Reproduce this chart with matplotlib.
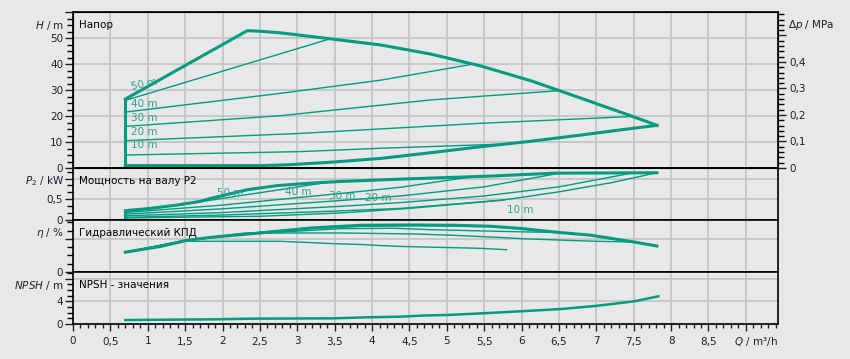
import matplotlib
matplotlib.use('Agg')
import matplotlib.pyplot as plt
from matplotlib.ticker import MultipleLocator, FuncFormatter

# --- данные ---
# Напор H, m
q_hmax = [0.7, 2.33, 2.5, 2.77, 3.44, 4.12, 4.79, 5.46, 6.13, 6.8, 7.47, 7.81]
h_max = [26.5, 52.8, 52.6, 52.0, 49.7, 47.3, 43.8, 39.2, 33.5, 26.8, 20.0, 16.4]
q_hmin = [0.7, 2.5, 2.85, 3.44, 4.12, 4.79, 5.46, 6.13, 6.8, 7.47, 7.81]
h_min = [0.9, 0.9, 1.2, 2.2, 3.7, 5.9, 8.2, 10.3, 12.7, 15.2, 16.4]
q_h50 = [0.7, 3.44]
h_50 = [26.0, 49.7]
q_h40 = [0.7, 2.77, 4.12, 5.36]
h_40 = [21.5, 28.7, 33.8, 40.0]
q_h30 = [0.7, 2.77, 4.79, 6.48]
h_30 = [16.0, 20.1, 26.2, 29.7]
q_h20 = [0.7, 3.04, 5.46, 7.47]
h_20 = [10.5, 13.3, 17.2, 19.8]
q_h10 = [0.7, 3.04, 4.12, 5.75]
h_10 = [5.0, 6.3, 7.6, 9.2]

# Мощность P2, kW
q_pmax = [0.7, 1.03, 1.39, 1.7, 1.84, 2.33, 2.73, 3.18, 3.58, 4.29, 4.92, 5.59, 6.43, 7.81]
p_max = [0.225, 0.28, 0.36, 0.45, 0.52, 0.73, 0.83, 0.89, 0.93, 0.98, 1.02, 1.06, 1.13, 1.14]
q_pmin = [0.7, 2.5, 3.58, 4.5, 5.75, 6.5, 7.2, 7.81]
p_min = [0.05, 0.09, 0.17, 0.28, 0.48, 0.68, 0.9, 1.14]
q_p50 = [0.7, 1.5, 2.1, 2.8, 3.44]
p_50 = [0.21, 0.38, 0.55, 0.74, 0.92]
q_p40 = [0.7, 2.0, 3.0, 3.58, 4.38, 5.36]
p_40 = [0.18, 0.36, 0.54, 0.64, 0.79, 1.05]
q_p30 = [0.7, 2.0, 3.58, 4.38, 5.5, 6.48]
p_30 = [0.14, 0.27, 0.47, 0.58, 0.80, 1.12]
q_p20 = [0.7, 2.0, 3.58, 4.38, 5.5, 6.5, 7.47]
p_20 = [0.10, 0.18, 0.33, 0.42, 0.58, 0.80, 1.13]
q_p10 = [0.7, 2.0, 3.58, 4.38, 5.75]
p_10 = [0.065, 0.12, 0.22, 0.28, 0.48]

# КПД, %
q_emax = [0.7, 1.17, 1.5, 1.84, 2.5, 3.18, 3.85, 4.5, 5.1, 5.59, 6.02, 6.43, 6.93, 7.5, 7.81]
e_max = [24, 31, 38, 42, 47.3, 53.3, 56.6, 57, 56.6, 55.4, 52.5, 48.5, 44.5, 36.4, 31.5]
q_e50 = [0.7, 1.5, 2.3, 3.44]
e_50 = [24, 38, 46.5, 55]
q_e40 = [0.7, 1.5, 2.3, 3.2, 3.9, 4.6, 5.36]
e_40 = [24, 38, 46.5, 53, 55.5, 56.2, 55.8]
q_e30 = [0.7, 1.5, 2.3, 3.1, 3.58, 4.29, 4.78, 5.32, 6.08, 6.48]
e_30 = [24, 38, 46, 50, 52.5, 53, 51.3, 50.1, 48.5, 48]
q_e20 = [0.7, 1.5, 2.28, 3.0, 3.58, 4.6, 5.1, 5.68, 6.0, 6.6, 7.0, 7.47]
e_20 = [24, 38, 47, 47.3, 47.3, 46, 44.4, 42, 40.4, 38.4, 37.2, 36.4]
q_e10 = [0.7, 1.2, 1.5, 2.2, 2.77, 3.5, 3.85, 4.33, 4.87, 5.45, 5.8]
e_10 = [24, 31, 37.2, 37.2, 37.2, 34.3, 33.3, 31.1, 29.9, 28.7, 27]

# NPSH, m
q_npsh = [0.7, 1.93, 2.37, 3.49, 3.94, 4.38, 4.7, 5.01, 5.5, 5.99, 6.53, 7.02, 7.51, 7.83]
npsh = [0.7, 0.83, 0.94, 1.0, 1.18, 1.29, 1.5, 1.59, 1.9, 2.24, 2.64, 3.22, 4.0, 4.88]

BG = '#e8e8e8'
GRID = '#c2c2c2'
LINE = '#009b80'
LBL = '#2fa190'
TXT = '#1e1e28'
THICK = 2.2
THIN = 1.0

plt.rcParams['font.size'] = 7.5

fig = plt.figure(figsize=(8.5, 3.59), dpi=100, facecolor=BG)


def panel(top, bottom):
    ax = fig.add_axes([73 / 850, 1 - bottom / 359, 705 / 850, (bottom - top) / 359])
    ax.set_facecolor(BG)
    ax.set_xlim(0, 9.43)
    ax.xaxis.set_major_locator(MultipleLocator(0.5))
    ax.xaxis.set_minor_locator(MultipleLocator(0.1))
    ax.grid(which='major', color=GRID, lw=1.2)
    ax.set_axisbelow(True)
    for s in ax.spines.values():
        s.set_color('black')
        s.set_linewidth(1.2)
    ax.tick_params(axis='x', which='both', bottom=False, labelbottom=False)
    ax.tick_params(axis='y', which='major', length=5.5, width=1.0, pad=1.5, colors=TXT)
    ax.tick_params(axis='y', which='minor', length=4.5, width=1.0)
    return ax


def fmt(hidden=()):
    def f(v, pos):
        if any(abs(v - h) < 1e-6 for h in hidden):
            return ''
        return ('%g' % round(v, 3)).replace('.', ',')
    return FuncFormatter(f)


def side_labels(ax, left, title):
    ax.annotate(left, xy=(0, 1), xycoords='axes fraction', xytext=(-9, -13),
                textcoords='offset pixels', ha='right', va='center', color=TXT)
    ax.annotate(title, xy=(0, 1), xycoords='axes fraction', xytext=(6, -13),
                textcoords='offset pixels', ha='left', va='center', color='black')


ax_h = panel(12, 168)
ax_p = panel(168, 220)
ax_e = panel(220, 272)
ax_n = panel(272, 324)

# --- Напор ---
ax_h.set_ylim(0, 60)
ax_h.yaxis.set_major_locator(MultipleLocator(10))
ax_h.yaxis.set_minor_locator(MultipleLocator(2.5))
ax_h.yaxis.set_major_formatter(fmt([60]))
for q, h in [(q_h50, h_50), (q_h40, h_40), (q_h30, h_30), (q_h20, h_20), (q_h10, h_10)]:
    ax_h.plot(q, h, color=LINE, lw=THIN)
ax_h.plot(q_hmax, h_max, color=LINE, lw=THICK)
ax_h.plot(q_hmin, h_min, color=LINE, lw=THICK)
ax_h.plot([q_hmax[0], q_hmin[0]], [h_max[0], h_min[0]], color=LINE, lw=THICK)
for txt, y, rot in [('50 m', 31.0, 12), ('40 m', 24.6, 0), ('30 m', 19.1, 0),
                    ('20 m', 13.7, 0), ('10 m', 8.8, 0)]:
    ax_h.text(0.78, y, txt, color=LBL, ha='left', va='center', rotation=rot,
              rotation_mode='anchor')
side_labels(ax_h, '$H$ / m', 'Напор')

ax_r = ax_h.twinx()
ax_r.set_ylim(0, 60 * 0.00980665)
ax_r.yaxis.set_major_locator(MultipleLocator(0.1))
ax_r.yaxis.set_minor_locator(MultipleLocator(0.02))
ax_r.yaxis.set_major_formatter(fmt([0.5]))
ax_r.tick_params(axis='y', which='major', length=5.5, width=1.0, pad=3, colors=TXT)
ax_r.tick_params(axis='y', which='minor', length=4.5, width=1.0)
ax_r.annotate('$\\Delta p$ / MPa', xy=(1, 1), xycoords='axes fraction', xytext=(10, -13),
              textcoords='offset pixels', ha='left', va='center', color=TXT)

# --- Мощность ---
ax_p.set_ylim(0, 1.255)
ax_p.yaxis.set_major_locator(MultipleLocator(0.5))
ax_p.yaxis.set_minor_locator(MultipleLocator(0.5 / 3))
ax_p.yaxis.set_major_formatter(fmt([1.0]))
for q, p in [(q_p50, p_50), (q_p40, p_40), (q_p30, p_30), (q_p20, p_20), (q_p10, p_10), (q_pmin, p_min)]:
    ax_p.plot(q, p, color=LINE, lw=THIN)
ax_p.plot(q_pmax, p_max, color=LINE, lw=THICK)
ax_p.plot([q_pmax[0], q_pmin[0]], [p_max[0], p_min[0]], color=LINE, lw=THICK)
for txt, x, y in [('50 m', 2.1, 0.65), ('40 m', 3.01, 0.67), ('30 m', 3.6, 0.59),
                  ('20 m', 4.08, 0.53), ('10 m', 5.98, 0.24)]:
    ax_p.text(x, y, txt, color=LBL, ha='center', va='center')
side_labels(ax_p, '$P_2$ / kW', 'Мощность на валу P2')

# --- КПД ---
ax_e.set_ylim(0, 63)
ax_e.yaxis.set_major_locator(MultipleLocator(40))
ax_e.yaxis.set_minor_locator(MultipleLocator(10))
ax_e.yaxis.set_major_formatter(fmt([40]))
for q, e in [(q_e50, e_50), (q_e40, e_40), (q_e30, e_30), (q_e20, e_20), (q_e10, e_10)]:
    ax_e.plot(q, e, color=LINE, lw=THIN)
ax_e.plot(q_emax, e_max, color=LINE, lw=THICK)
side_labels(ax_e, '$\\eta$ / %', 'Гидравлический КПД')

# --- NPSH ---
ax_n.set_ylim(0, 9.16)
ax_n.yaxis.set_major_locator(MultipleLocator(4))
ax_n.yaxis.set_minor_locator(MultipleLocator(1))
ax_n.yaxis.set_major_formatter(fmt([8]))
ax_n.plot(q_npsh, npsh, color=LINE, lw=1.8)
side_labels(ax_n, '$NPSH$ / m', 'NPSH - значения')

ax_n.tick_params(axis='x', which='both', bottom=True, labelbottom=True, colors=TXT)
ax_n.tick_params(axis='x', which='major', length=5, width=1.0, pad=4)
ax_n.tick_params(axis='x', which='minor', length=3.2, width=1.0)
ax_n.xaxis.set_major_formatter(fmt([9]))
ax_n.annotate('$Q$ / m³/h', xy=(1, 0), xycoords='axes fraction', xytext=(0, -18),
              textcoords='offset pixels', ha='right', va='center', color=TXT)

fig.savefig('out.png', dpi=100, facecolor=BG)
